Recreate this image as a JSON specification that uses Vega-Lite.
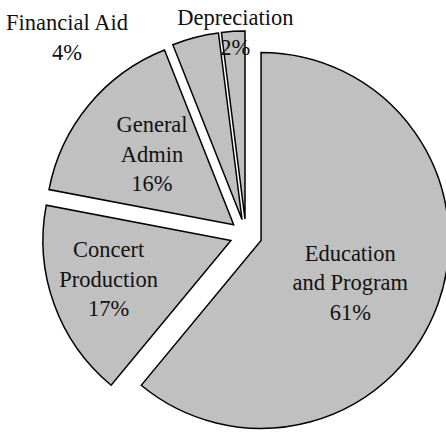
{
  "$schema": "https://vega.github.io/schema/vega-lite/v6.json",
  "width": 400,
  "height": 394,
  "padding": {"left": 46, "top": 38, "right": 0, "bottom": 0},
  "autosize": {"type": "none"},
  "background": "white",
  "config": {"view": {"stroke": null}},
  "data": {
    "values": [
      {"category": "Education and Program", "value": 61, "label": "Education\nand Program\n61%"},
      {"category": "Concert Production", "value": 17, "label": "Concert\nProduction\n17%"},
      {"category": "General Admin", "value": 16, "label": "General\nAdmin\n16%"},
      {"category": "Financial Aid", "value": 4, "label": "Financial Aid\n4%"},
      {"category": "Depreciation", "value": 2, "label": "Depreciation\n2%"}
    ]
  },
  "encoding": {
    "theta": {"field": "value", "type": "quantitative", "stack": true},
    "detail": {"field": "category"},
    "order": {"field": "value", "sort": "descending"}
  },
  "layer": [
    {
      "mark": {
        "type": "arc",
        "radius": 188,
        "fill": "#c0c0c0",
        "stroke": "black",
        "strokeWidth": 1.5,
        "strokeJoin": "miter",
        "xOffset": {"expr": "16*sin(PI*(datum.value_start+datum.value_end)/100)"},
        "yOffset": {"expr": "-16*cos(PI*(datum.value_start+datum.value_end)/100)"}
      }
    },
    {
      "mark": {
        "type": "text",
        "font": "Liberation Serif",
        "fontSize": 22.5,
        "lineHeight": 29.5,
        "lineBreak": "\n",
        "align": "center",
        "baseline": "middle",
        "color": "#111111",
        "radius": {"expr": "datum.category == 'Education and Program' ? 98 : datum.category == 'Concert Production' ? 130 : datum.category == 'General Admin' ? 106 : datum.category == 'Financial Aid' ? 189 : 186"},
        "dx": {"expr": "datum.category == 'Financial Aid' ? -128 : datum.category == 'Depreciation' ? 2 : datum.category == 'Education and Program' ? -3 : 0"},
        "dy": {"expr": "datum.category == 'Education and Program' ? -20 : datum.category == 'Concert Production' ? -34 : datum.category == 'General Admin' ? -32 : datum.category == 'Financial Aid' ? -13 : -15"},
        "xOffset": {"expr": "16*sin(PI*(datum.value_start+datum.value_end)/100)"},
        "yOffset": {"expr": "-16*cos(PI*(datum.value_start+datum.value_end)/100)"}
      },
      "encoding": {
        "text": {"field": "label"}
      }
    }
  ]
}
